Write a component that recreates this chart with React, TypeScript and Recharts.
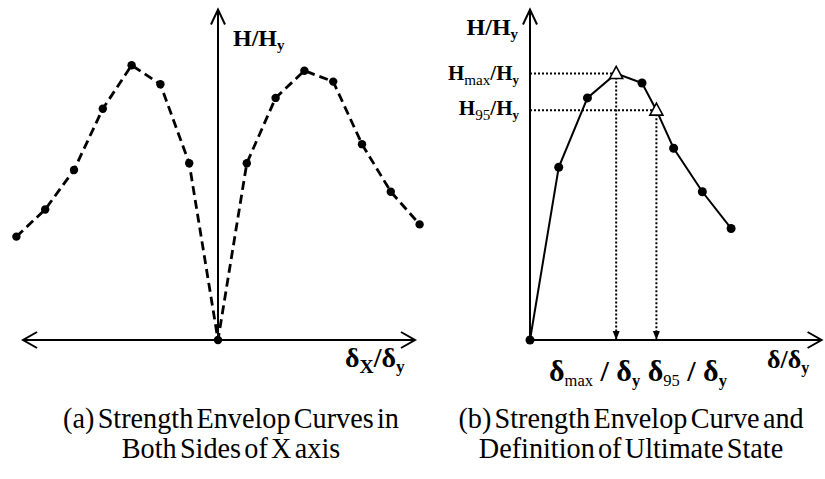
import React from 'react';
import { LineChart, Line, XAxis, YAxis, ReferenceLine, ReferenceDot } from 'recharts';

// (a) both sides of the X axis, dashed envelope
const LEFT_X = [-7, -6, -5, -4, -3, -2, -1, 0, 1, 2, 3, 4, 5, 6, 7];
const LEFT_Y = [0.38, 0.48, 0.625, 0.85, 1.01, 0.94, 0.65, 0, 0.65, 0.89, 0.99, 0.95, 0.72, 0.545, 0.425];

// (b) single envelope, triangles mark Hmax and H95
const RIGHT_X = [0, 1, 2, 3, 3.9, 4.4, 5, 6, 7];
const RIGHT_Y = [0, 0.635, 0.89, 0.98, 0.945, 0.845, 0.705, 0.545, 0.41];
const RIGHT_MARK = ['dot', 'dot', 'dot', 'tri', 'dot', 'tri', 'dot', 'dot', 'dot'];

const LEFT_AXIS_X = [-6.77, 6.84];
const RIGHT_AXIS_X = [0, 10.15];
const AXIS_TOP = 1.215;

const leftData = LEFT_X.map((x, i) => ({ x, y: LEFT_Y[i] }));
const rightData = RIGHT_X.map((x, i) => ({ x, y: RIGHT_Y[i], mark: RIGHT_MARK[i] }));
const triPoints = rightData.filter((d) => d.mark === 'tri');

const ink = '#000';
const serif = '"Liberation Serif", "Times New Roman", serif';

const chevron = (dir: 'left' | 'right' | 'up') => (p: any) => {
  const { cx, cy } = p;
  let d = '';
  if (dir === 'right') d = `M${cx - 14},${cy - 8} L${cx},${cy} L${cx - 14},${cy + 8}`;
  if (dir === 'left') d = `M${cx + 14},${cy - 8} L${cx},${cy} L${cx + 14},${cy + 8}`;
  if (dir === 'up') d = `M${cx - 7},${cy + 15} L${cx},${cy} L${cx + 7},${cy + 15}`;
  return <path d={d} fill="none" stroke={ink} strokeWidth={2} />;
};

const downHead = (p: any) => {
  const { cx, cy } = p;
  return <path d={`M${cx - 3.5},${cy - 9} L${cx + 3.5},${cy - 9} L${cx},${cy} Z`} fill={ink} />;
};

const leftDot = (p: any) => <circle key={`l${p.index}`} cx={p.cx} cy={p.cy} r={4.2} fill={ink} />;

const rightDot = (p: any) => {
  const { cx, cy, payload, index } = p;
  if (payload.mark === 'tri') {
    return (
      <path
        key={`r${index}`}
        d={`M${cx},${cy - 7} L${cx + 6.5},${cy + 5} L${cx - 6.5},${cy + 5} Z`}
        fill="#fff"
        stroke={ink}
        strokeWidth={1.6}
      />
    );
  }
  return <circle key={`r${index}`} cx={cx} cy={cy} r={4.5} fill={ink} />;
};

const Sub = ({ children, size = '0.62em', light = false }: { children: React.ReactNode; size?: string; light?: boolean }) => (
  <span style={{ fontSize: size, position: 'relative', top: '0.3em', fontWeight: light ? 'normal' : 'bold' }}>
    {children}
  </span>
);

const label = (pos: React.CSSProperties, size: number): React.CSSProperties => ({
  position: 'absolute',
  fontFamily: serif,
  fontWeight: 'bold',
  fontSize: size,
  lineHeight: 1,
  whiteSpace: 'nowrap',
  color: ink,
  ...pos,
});

const caption = (center: number, top: number): React.CSSProperties => ({
  position: 'absolute',
  left: center - 250,
  width: 500,
  top,
  textAlign: 'center',
  fontFamily: serif,
  fontSize: 30,
  lineHeight: '30px',
  transform: 'scaleX(0.94)',
  wordSpacing: -4,
  color: ink,
});

export default function App() {
  return (
    <div style={{ position: 'absolute', left: 0, top: 0, width: 825, height: 479, background: '#fff', overflow: 'hidden' }}>
      <div style={{ position: 'absolute', left: 0, top: 0 }}>
        <LineChart width={440} height={380} data={leftData} margin={{ top: 0, right: 6, bottom: 40, left: 2 }}>
          <XAxis type="number" dataKey="x" domain={[-7.5, 7.5]} hide />
          <YAxis type="number" domain={[0, 1.25]} hide />
          <ReferenceLine
            segment={[{ x: LEFT_AXIS_X[0], y: 0 }, { x: LEFT_AXIS_X[1], y: 0 }]}
            stroke={ink}
            strokeWidth={2}
            ifOverflow="visible"
          />
          <ReferenceLine
            segment={[{ x: 0, y: 0 }, { x: 0, y: AXIS_TOP }]}
            stroke={ink}
            strokeWidth={2}
            ifOverflow="visible"
          />
          <ReferenceDot x={LEFT_AXIS_X[0]} y={0} shape={chevron('left')} ifOverflow="visible" />
          <ReferenceDot x={LEFT_AXIS_X[1]} y={0} shape={chevron('right')} ifOverflow="visible" />
          <ReferenceDot x={0} y={AXIS_TOP} shape={chevron('up')} ifOverflow="visible" />
          <Line
            type="linear"
            dataKey="y"
            stroke={ink}
            strokeWidth={2.8}
            strokeDasharray="9 5"
            dot={leftDot}
            activeDot={false}
            isAnimationActive={false}
          />
        </LineChart>
      </div>
      <div style={{ position: 'absolute', left: 440, top: 0 }}>
        <LineChart width={385} height={380} data={rightData} margin={{ top: 0, right: 2, bottom: 40, left: 90 }}>
          <XAxis type="number" dataKey="x" domain={[0, 10.2]} hide />
          <YAxis type="number" domain={[0, 1.25]} hide />
          <ReferenceLine
            segment={[{ x: RIGHT_AXIS_X[0], y: 0 }, { x: RIGHT_AXIS_X[1], y: 0 }]}
            stroke={ink}
            strokeWidth={2}
            ifOverflow="visible"
          />
          <ReferenceLine
            segment={[{ x: 0, y: 0 }, { x: 0, y: AXIS_TOP }]}
            stroke={ink}
            strokeWidth={2}
            ifOverflow="visible"
          />
          <ReferenceDot x={RIGHT_AXIS_X[1]} y={0} shape={chevron('right')} ifOverflow="visible" />
          <ReferenceDot x={0} y={AXIS_TOP} shape={chevron('up')} ifOverflow="visible" />
          {triPoints.map((t, i) => (
            <ReferenceLine
              key={`h${i}`}
              segment={[{ x: 0, y: t.y }, { x: t.x, y: t.y }]}
              stroke={ink}
              strokeWidth={2}
              strokeDasharray="2 2"
              ifOverflow="visible"
            />
          ))}
          {triPoints.map((t, i) => (
            <ReferenceLine
              key={`v${i}`}
              segment={[{ x: t.x, y: t.y }, { x: t.x, y: 0 }]}
              stroke={ink}
              strokeWidth={2}
              strokeDasharray="2 2"
              ifOverflow="visible"
            />
          ))}
          {triPoints.map((t, i) => (
            <ReferenceDot key={`a${i}`} x={t.x} y={0} shape={downHead} ifOverflow="visible" />
          ))}
          <Line
            type="linear"
            dataKey="y"
            stroke={ink}
            strokeWidth={2}
            dot={rightDot}
            activeDot={false}
            isAnimationActive={false}
          />
        </LineChart>
      </div>

      {/* axis labels */}
      <div style={label({ left: 233, top: 26 }, 24)}>
        H/H<Sub>y</Sub>
      </div>
      <div style={label({ left: 345, top: 344 }, 28)}>
        δ<Sub size="0.7em">X</Sub>/δ<Sub>y</Sub>
      </div>
      <div style={label({ right: 825 - 518, top: 15 }, 24)}>
        H/H<Sub>y</Sub>
      </div>
      <div style={label({ right: 825 - 519, top: 63 }, 21)}>
        H<Sub size="0.72em" light>max</Sub>/H<Sub>y</Sub>
      </div>
      <div style={label({ right: 825 - 519, top: 98 }, 21)}>
        H<Sub size="0.72em" light>95</Sub>/H<Sub>y</Sub>
      </div>
      <div style={label({ left: 549, top: 356 }, 30)}>
        δ<Sub size="0.55em" light>max</Sub> / δ<Sub size="0.55em">y</Sub> δ<Sub size="0.55em" light>95</Sub> / δ
        <Sub size="0.55em">y</Sub>
      </div>
      <div style={label({ left: 767, top: 347 }, 26)}>
        δ/δ<Sub>y</Sub>
      </div>

      {/* captions */}
      <div style={caption(231, 403)}>
        (a) Strength Envelop Curves in
        <br />
        Both Sides of X axis
      </div>
      <div style={caption(631, 403)}>
        (b) Strength Envelop Curve and
        <br />
        Definition of Ultimate State
      </div>
    </div>
  );
}
